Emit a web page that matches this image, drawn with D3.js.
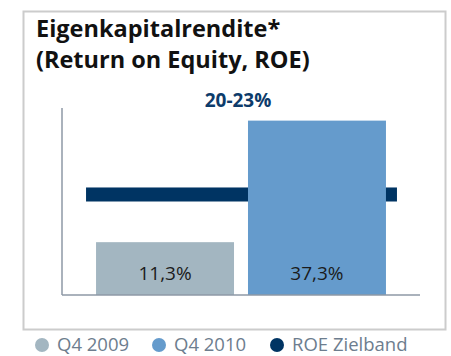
<!DOCTYPE html>
<html>
<head>
<meta charset="utf-8">
<script src="https://cdn.jsdelivr.net/npm/d3@7"></script>
<style>
  html, body { margin: 0; padding: 0; background: #fff; }
  svg { display: block; font-family: "Open Sans", "Noto Sans", sans-serif; }
</style>
</head>
<body>
<svg id="chart" width="451" height="356"></svg>
<script>
// Return on equity, Q4 2009 vs Q4 2010, with the target band
const categories = ["Q4 2009", "Q4 2010"];
const roeValues = [11.3, 37.3];
const targetBand = [20, 23];
const targetLabel = "20-23%";
const yDomain = [0, 40];
const titleLines = ["Eigenkapitalrendite*", "(Return on Equity, ROE)"];
const legendNames = ["Q4 2009", "Q4 2010", "ROE Zielband"];

const barColors = ["#a3b6c1", "#659bcc"];
const bandColor = "#003463";
const legendColors = [barColors[0], barColors[1], bandColor];

const svg = d3.select("#chart");

// German number format: decimal comma
const de = d3.formatLocale({ decimal: ",", thousands: ".", grouping: [3], currency: ["", " €"] });
const fmt = v => de.format(".1f")(v) + "%";

// Panel frame
svg.append("rect")
  .attr("x", 23.5).attr("y", 11.5)
  .attr("width", 422).attr("height", 318)
  .attr("fill", "#fff")
  .attr("stroke", "#cccccc")
  .attr("stroke-width", 2);

// Title
const title = svg.append("text")
  .attr("font-size", 23.5).attr("font-weight", 700)
  .attr("fill", "#111");
titleLines.forEach((t, i) => {
  title.append("tspan").attr("x", 36).attr("y", 37 + i * 31).text(t);
});

// Scales
const x = d3.scaleBand()
  .domain(categories)
  .range([62, 420])
  .paddingInner(0.092)
  .paddingOuter(0.224);

const y = d3.scaleLinear()
  .domain(yDomain)
  .range([295, 108]);

const g = svg.append("g");

// Bars
g.selectAll("rect.bar")
  .data(categories)
  .join("rect")
  .attr("class", "bar")
  .attr("x", d => x(d))
  .attr("width", x.bandwidth())
  .attr("y", (d, i) => y(roeValues[i]))
  .attr("height", (d, i) => y(0) - y(roeValues[i]))
  .attr("fill", (d, i) => barColors[i]);

// Target band (20-23%), drawn behind the second bar
const bandX0 = x(categories[0]) - 10;
const bandX1 = x(categories[1]) + x.bandwidth() + 11;
g.insert("rect", "rect.bar:nth-of-type(2)")
  .attr("x", bandX0)
  .attr("width", bandX1 - bandX0)
  .attr("y", y(targetBand[1]))
  .attr("height", y(targetBand[0]) - y(targetBand[1]))
  .attr("fill", bandColor);

// Value labels inside bars
g.selectAll("text.val")
  .data(categories)
  .join("text")
  .attr("class", "val")
  .attr("x", d => x(d) + x.bandwidth() / 2)
  .attr("y", y(0) - 15)
  .attr("text-anchor", "middle")
  .attr("font-size", 19)
  .attr("fill", "#1b1b1b")
  .text((d, i) => fmt(roeValues[i]));

// Axis lines
const axisColor = "#8e98a6";
g.append("line")
  .attr("x1", 62).attr("x2", 62)
  .attr("y1", y(yDomain[1])).attr("y2", y(0))
  .attr("stroke", axisColor).attr("stroke-width", 1.5);
g.append("line")
  .attr("x1", x.range()[0]).attr("x2", x.range()[1])
  .attr("y1", y(0)).attr("y2", y(0))
  .attr("stroke", axisColor).attr("stroke-width", 1.5);

// Target band label
svg.append("text")
  .attr("x", (x.range()[0] + x.range()[1]) / 2 - 3)
  .attr("y", 107)
  .attr("text-anchor", "middle")
  .attr("font-size", 19).attr("font-weight", 700)
  .attr("fill", "#0d3b6a")
  .text(targetLabel);

// Legend
const legendX = [42, 159, 277];
const legend = svg.selectAll("g.leg")
  .data(legendNames)
  .join("g")
  .attr("class", "leg")
  .attr("transform", (d, i) => `translate(${legendX[i]},345)`);
legend.append("circle")
  .attr("r", 7)
  .attr("fill", (d, i) => legendColors[i]);
legend.append("text")
  .attr("x", 15).attr("y", 6)
  .attr("font-size", 18.5)
  .attr("fill", "#6d7d8e")
  .text(d => d);
</script>
</body>
</html>
